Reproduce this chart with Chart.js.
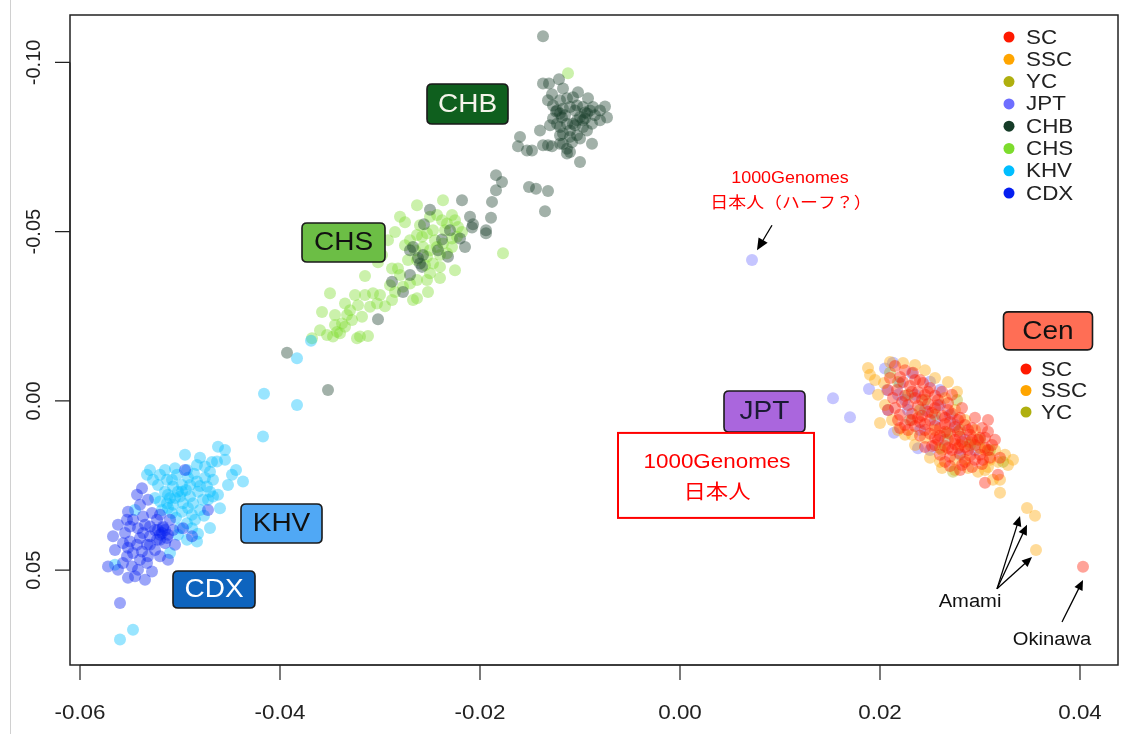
<!DOCTYPE html>
<html><head><meta charset="utf-8">
<script src="https://cdn.jsdelivr.net/npm/chart.js@4.4.0/dist/chart.umd.min.js"></script>
<style>html,body{margin:0;padding:0;background:#fff;overflow:hidden}canvas{display:block}</style>
</head><body>
<canvas id="c" width="1126" height="734"></canvas>
<script>
// ---- tick values / labels ----
const xTicks = [-0.06, -0.04, -0.02, 0.00, 0.02, 0.04];
const xTickLabels = ['-0.06', '-0.04', '-0.02', '0.00', '0.02', '0.04'];
const yTicks = [-0.10, -0.05, 0.00, 0.05];
const yTickLabels = ['-0.10', '-0.05', '0.00', '0.05'];

// ---- legend ----
const legendNames = ['SC', 'SSC', 'YC', 'JPT', 'CHB', 'CHS', 'KHV', 'CDX'];
const cenLegendNames = ['SC', 'SSC', 'YC'];

// ---- series values (PC1, PC2) ----
const CHB = [
[-0.0137,-0.1077],[-0.0137,-0.0938],[-0.0131,-0.0938],[-0.0121,-0.0950],[-0.0117,-0.0923],[-0.0128,-0.0906],
[-0.0132,-0.0888],[-0.0120,-0.0888],[-0.0113,-0.0894],[-0.0107,-0.0897],[-0.0123,-0.0858],[-0.0120,-0.0849],
[-0.0117,-0.0863],[-0.0110,-0.0868],[-0.0103,-0.0873],[-0.0097,-0.0868],[-0.0093,-0.0849],[-0.0090,-0.0858],
[-0.0087,-0.0868],[-0.0080,-0.0858],[-0.0075,-0.0870],[-0.0073,-0.0837],[-0.0088,-0.0819],[-0.0097,-0.0829],
[-0.0100,-0.0839],[-0.0103,-0.0829],[-0.0107,-0.0819],[-0.0110,-0.0799],[-0.0113,-0.0819],[-0.0120,-0.0809],
[-0.0123,-0.0819],[-0.0127,-0.0834],[-0.0117,-0.0790],[-0.0110,-0.0780],[-0.0103,-0.0785],[-0.0100,-0.0775],
[-0.0117,-0.0760],[-0.0113,-0.0745],[-0.0110,-0.0735],[-0.0113,-0.0731],[-0.0120,-0.0760],[-0.0128,-0.0752],
[-0.0132,-0.0755],[-0.0137,-0.0755],[-0.0140,-0.0799],[-0.0160,-0.0780],[-0.0162,-0.0752],[-0.0153,-0.0740],
[-0.0148,-0.0740],[-0.0100,-0.0706],[-0.0088,-0.0760],[-0.0093,-0.0799],[-0.0097,-0.0809],
[-0.0124,-0.0855],[-0.0118,-0.0837],[-0.0105,-0.0858],[-0.0095,-0.0852],
[-0.0127,-0.0873],[-0.0115,-0.0844],[-0.0105,-0.0814],[-0.0095,-0.0834],[-0.0085,-0.0844],[-0.0120,-0.0785],
[-0.0108,-0.0764],[-0.0130,-0.0814],[-0.0080,-0.0829],[-0.0092,-0.0894],[-0.0102,-0.0912],
[-0.0184,-0.0667],[-0.0178,-0.0647],[-0.0184,-0.0622],[-0.0188,-0.0588],[-0.0218,-0.0593],[-0.0250,-0.0565],
[-0.0210,-0.0544],[-0.0189,-0.0541],[-0.0151,-0.0632],[-0.0144,-0.0627],[-0.0132,-0.0620],[-0.0135,-0.0560],
[-0.0256,-0.0522],[-0.0207,-0.0522],[-0.0208,-0.0512],[-0.0194,-0.0504],[-0.0194,-0.0495],[-0.0230,-0.0504],
[-0.0238,-0.0477],[-0.0242,-0.0445],[-0.0267,-0.0455],[-0.0270,-0.0445],[-0.0260,-0.0406],[-0.0258,-0.0396],
[-0.0232,-0.0426],[-0.0220,-0.0480],[-0.0215,-0.0455],[-0.0270,-0.0372],[-0.0288,-0.0352],[-0.0277,-0.0322],
[-0.0302,-0.0241],[-0.0393,-0.0142],[-0.0352,-0.0032],[-0.0262,-0.0422],[-0.0257,-0.0431]
];
const CHS = [
[-0.0112,-0.0968],[-0.0237,-0.0593],[-0.0263,-0.0578],[-0.0280,-0.0544],[-0.0250,-0.0544],[-0.0243,-0.0549],
[-0.0238,-0.0534],[-0.0228,-0.0549],[-0.0225,-0.0534],[-0.0233,-0.0524],[-0.0222,-0.0514],[-0.0218,-0.0499],
[-0.0223,-0.0485],[-0.0228,-0.0480],[-0.0247,-0.0504],[-0.0253,-0.0495],[-0.0258,-0.0485],[-0.0263,-0.0490],
[-0.0270,-0.0475],[-0.0257,-0.0455],[-0.0250,-0.0445],[-0.0243,-0.0455],[-0.0237,-0.0465],[-0.0233,-0.0436],
[-0.0228,-0.0455],[-0.0272,-0.0416],[-0.0263,-0.0416],[-0.0253,-0.0426],[-0.0247,-0.0406],[-0.0240,-0.0396],
[-0.0250,-0.0377],[-0.0253,-0.0357],[-0.0263,-0.0357],[-0.0270,-0.0347],[-0.0277,-0.0337],[-0.0282,-0.0391],
[-0.0288,-0.0391],[-0.0285,-0.0322],[-0.0267,-0.0298],[-0.0252,-0.0322],[-0.0263,-0.0303],[-0.0315,-0.0369],
[-0.0307,-0.0318],[-0.0315,-0.0313],[-0.0303,-0.0288],[-0.0310,-0.0278],[-0.0318,-0.0249],[-0.0335,-0.0288],
[-0.0333,-0.0254],[-0.0338,-0.0229],[-0.0328,-0.0239],[-0.0343,-0.0204],[-0.0347,-0.0190],[-0.0353,-0.0195],
[-0.0368,-0.0185],[-0.0358,-0.0263],[-0.0350,-0.0318],[-0.0320,-0.0190],[-0.0312,-0.0192],[-0.0335,-0.0219],
[-0.0345,-0.0224],[-0.0177,-0.0436],[-0.0340,-0.0200],[-0.0323,-0.0185],
[-0.0275,-0.0528],[-0.0285,-0.0499],[-0.0292,-0.0475],[-0.0298,-0.0431],[-0.0302,-0.0410],[-0.0240,-0.0363],
[-0.0225,-0.0386],[-0.0295,-0.0280],[-0.0325,-0.0313],[-0.0288,-0.0298],
[-0.0275,-0.0460],[-0.0265,-0.0445],[-0.0260,-0.0519],[-0.0245,-0.0475],[-0.0235,-0.0504],[-0.0240,-0.0431],
[-0.0255,-0.0401],[-0.0280,-0.0372],[-0.0290,-0.0342],[-0.0300,-0.0313],[-0.0322,-0.0283],[-0.0330,-0.0268],
[-0.0345,-0.0254],[-0.0360,-0.0209]
];
const KHV = [
[-0.0369,-0.0178],[-0.0383,-0.0126],[-0.0416,-0.0021],[-0.0383,0.0012],[-0.0417,0.0105],[-0.0462,0.0135],
[-0.0455,0.0145],[-0.0463,0.0179],[-0.0455,0.0174],[-0.0448,0.0218],[-0.0437,0.0238],[-0.0460,0.0317],
[-0.0495,0.0159],[-0.0505,0.0199],[-0.0533,0.0218],[-0.0520,0.0218],[-0.0513,0.0233],[-0.0503,0.0218],
[-0.0493,0.0204],[-0.0483,0.0189],[-0.0475,0.0194],[-0.0470,0.0209],[-0.0467,0.0233],[-0.0473,0.0253],
[-0.0483,0.0238],[-0.0490,0.0248],[-0.0498,0.0248],[-0.0507,0.0253],[-0.0515,0.0268],[-0.0510,0.0287],
[-0.0500,0.0282],[-0.0490,0.0282],[-0.0482,0.0268],[-0.0470,0.0268],[-0.0467,0.0282],[-0.0477,0.0292],
[-0.0487,0.0302],[-0.0497,0.0302],[-0.0507,0.0307],[-0.0513,0.0302],[-0.0520,0.0297],[-0.0525,0.0287],
[-0.0518,0.0322],[-0.0508,0.0331],[-0.0498,0.0327],[-0.0488,0.0336],[-0.0480,0.0322],[-0.0485,0.0351],
[-0.0493,0.0361],[-0.0500,0.0376],[-0.0488,0.0376],[-0.0483,0.0415],[-0.0493,0.0410],[-0.0510,0.0449],
[-0.0565,0.0484],[-0.0560,0.0705],[-0.0547,0.0676],[-0.0545,0.0322],
[-0.0502,0.0268],[-0.0494,0.0263],[-0.0505,0.0287],[-0.0512,0.0316],[-0.0475,0.0227],[-0.0480,0.0168],
[-0.0527,0.0233],
[-0.0530,0.0204],[-0.0522,0.0248],[-0.0508,0.0233],[-0.0492,0.0227],[-0.0480,0.0251],[-0.0472,0.0292],
[-0.0462,0.0277],[-0.0452,0.0248],[-0.0444,0.0204],[-0.0468,0.0180],[-0.0486,0.0215],[-0.0498,0.0268],
[-0.0512,0.0277],[-0.0504,0.0345],[-0.0492,0.0316],[-0.0476,0.0339],[-0.0470,0.0375],[-0.0482,0.0392],
[-0.0502,0.0395],[-0.0515,0.0204]
];
const CDX = [
[-0.0538,0.0258],[-0.0543,0.0277],[-0.0472,0.0322],[-0.0553,0.0351],[-0.0547,0.0351],[-0.0537,0.0341],
[-0.0528,0.0331],[-0.0523,0.0351],[-0.0530,0.0371],[-0.0525,0.0381],[-0.0517,0.0371],[-0.0520,0.0395],
[-0.0513,0.0405],[-0.0515,0.0420],[-0.0523,0.0410],[-0.0530,0.0400],[-0.0537,0.0390],[-0.0542,0.0376],
[-0.0550,0.0371],[-0.0555,0.0390],[-0.0567,0.0400],[-0.0557,0.0420],[-0.0550,0.0415],[-0.0543,0.0425],
[-0.0538,0.0445],[-0.0547,0.0449],[-0.0553,0.0459],[-0.0557,0.0479],[-0.0572,0.0489],[-0.0548,0.0489],
[-0.0542,0.0499],[-0.0533,0.0479],[-0.0528,0.0504],[-0.0545,0.0518],[-0.0532,0.0459],[-0.0525,0.0440],
[-0.0520,0.0459],[-0.0560,0.0597],[-0.0488,0.0400],[-0.0497,0.0376],[-0.0507,0.0381],[-0.0495,0.0204],
[-0.0522,0.0381],[-0.0518,0.0390],[-0.0515,0.0381],[-0.0512,0.0395],[-0.0520,0.0410],[-0.0517,0.0375],
[-0.0533,0.0425],[-0.0540,0.0405],[-0.0552,0.0434],[-0.0535,0.0366],
[-0.0562,0.0366],[-0.0552,0.0327],[-0.0540,0.0307],[-0.0532,0.0292],[-0.0520,0.0336],[-0.0510,0.0351],
[-0.0505,0.0425],[-0.0512,0.0469],[-0.0535,0.0528],[-0.0552,0.0522],[-0.0565,0.0440],[-0.0540,0.0469],
[-0.0530,0.0425],[-0.0562,0.0499]
];
const JPT = [
[0.0072,-0.0416],[0.0153,-0.0008],[0.0170,0.0048],[0.0189,-0.0035],[0.0205,-0.0096],[0.0213,-0.0113],
[0.0214,0.0094],[0.0238,0.0140],[0.0230,0.0056],[0.0208,0.0027],[0.0207,-0.0032],[0.0220,-0.0052],
[0.0232,-0.0082],[0.0250,-0.0057],[0.0260,-0.0032],
[0.0225,-0.0003],[0.0235,-0.0018],[0.0245,0.0027],[0.0255,0.0056],[0.0240,0.0086],[0.0265,0.0115],
[0.0275,0.0071],[0.0250,0.0145],[0.0280,0.0159],[0.0218,-0.0018],[0.0228,0.0027],[0.0260,0.0012],
[0.0270,0.0041],[0.0285,0.0115],[0.0295,0.0145]
];
const SC = [
[0.0215,-0.0103],[0.0225,-0.0091],[0.0210,-0.0068],[0.0220,-0.0071],[0.0233,-0.0083],[0.0240,-0.0062],
[0.0208,-0.0032],[0.0217,-0.0032],[0.0230,-0.0044],[0.0243,-0.0053],[0.0250,-0.0038],[0.0213,-0.0009],
[0.0225,-0.0015],[0.0235,-0.0009],[0.0245,-0.0018],[0.0255,-0.0015],[0.0262,-0.0027],[0.0215,0.0021],
[0.0228,0.0012],[0.0238,0.0015],[0.0248,0.0009],[0.0258,0.0012],[0.0268,0.0006],[0.0220,0.0041],
[0.0232,0.0038],[0.0242,0.0044],[0.0252,0.0035],[0.0262,0.0044],[0.0272,0.0038],[0.0280,0.0050],
[0.0225,0.0071],[0.0235,0.0074],[0.0245,0.0068],[0.0255,0.0074],[0.0265,0.0068],[0.0275,0.0077],
[0.0285,0.0071],[0.0292,0.0080],[0.0240,0.0103],[0.0250,0.0097],[0.0260,0.0103],[0.0270,0.0097],
[0.0280,0.0106],[0.0290,0.0100],[0.0300,0.0109],[0.0308,0.0091],[0.0245,0.0136],[0.0255,0.0130],
[0.0265,0.0133],[0.0275,0.0127],[0.0285,0.0136],[0.0295,0.0130],[0.0305,0.0139],[0.0260,0.0159],
[0.0270,0.0165],[0.0280,0.0156],[0.0290,0.0162],[0.0300,0.0159],[0.0310,0.0168],[0.0270,0.0192],
[0.0282,0.0189],[0.0292,0.0195],[0.0302,0.0186],[0.0305,0.0242],[0.0318,0.0218],[0.0208,0.0027],
[0.0220,0.0080],[0.0308,0.0056],[0.0315,0.0115],
[0.0250,0.0056],[0.0260,0.0080],[0.0270,0.0062],[0.0278,0.0091],[0.0265,0.0091],[0.0282,0.0121],
[0.0272,0.0145],[0.0288,0.0145],[0.0295,0.0174],[0.0258,0.0115],[0.0238,0.0050],[0.0248,0.0032],
[0.0223,-0.0056],[0.0235,-0.0062],[0.0248,-0.0027],[0.0258,-0.0003],[0.0268,0.0027],[0.0278,0.0056],
[0.0288,0.0086],[0.0298,0.0115],[0.0308,0.0145],[0.0303,0.0174],[0.0285,0.0180],[0.0275,0.0115],
[0.0265,0.0050],[0.0255,0.0021],[0.0242,-0.0003],[0.0232,-0.0027],[0.0222,0.0003],[0.0232,0.0056],
[0.0245,0.0086],[0.0255,0.0109],[0.0268,0.0139],[0.0278,0.0139],[0.0292,0.0115],[0.0302,0.0080],
[0.0312,0.0130],[0.0320,0.0168],[0.0280,0.0204],[0.0265,0.0180],[0.0252,0.0133],[0.0240,0.0062],
[0.0228,0.0086],[0.0218,0.0056],[0.0238,-0.0027],[0.0272,-0.0018],[0.0282,0.0021],[0.0295,0.0050],
[0.0305,0.0109],
[0.0403,0.0490]
];
const SSC = [
[0.0188,-0.0097],[0.0223,-0.0112],[0.0268,-0.0056],[0.0277,-0.0027],[0.0200,0.0065],[0.0232,0.0100],
[0.0260,0.0180],[0.0262,0.0198],[0.0288,0.0198],[0.0308,0.0195],[0.0310,0.0174],[0.0333,0.0174],
[0.0320,0.0233],[0.0313,0.0233],[0.0320,0.0271],[0.0305,0.0145],[0.0315,0.0145],
[0.0347,0.0316],[0.0355,0.0339],[0.0356,0.0440],
[0.0198,-0.0018],[0.0205,0.0012],[0.0204,-0.0053],[0.0195,-0.0062],[0.0212,0.0056],[0.0225,0.0100],
[0.0235,0.0130],[0.0250,0.0168],[0.0275,0.0204],[0.0298,0.0209],[0.0325,0.0159],[0.0318,0.0180],
[0.0295,0.0086],[0.0285,0.0056],[0.0275,0.0027],[0.0265,-0.0009],[0.0255,-0.0068],[0.0245,-0.0091],
[0.0235,-0.0106],[0.0210,-0.0115],[0.0280,0.0130],[0.0268,0.0115],[0.0255,0.0086],[0.0245,0.0109],
[0.0290,0.0121],[0.0300,0.0139],[0.0275,0.0174],[0.0285,0.0174],[0.0262,0.0145],[0.0230,0.0056],
[0.0218,0.0086],[0.0190,-0.0077],[0.0328,0.0189],[0.0305,0.0204]
];
const YC = [
[0.0210,-0.0083],[0.0277,-0.0003],[0.0273,0.0209],[0.0323,0.0180],[0.0228,-0.0018],[0.0267,0.0094],
[0.0300,0.0115],[0.0240,0.0027],[0.0255,0.0041],[0.0280,0.0086],[0.0290,0.0130],[0.0218,-0.0056],
[0.0260,0.0139],[0.0310,0.0145],[0.0245,-0.0003]
];

// ---- annotations (data coordinates) ----
const labelBoxes = [
  {text:'CHB', x:-0.02125, y:-0.0877, w:81, h:40, fill:'#0F5F1E', color:'#F4F4EA'},
  {text:'CHS', x:-0.03365, y:-0.0468, w:83, h:39, fill:'#6CBE45', color:'#111111'},
  {text:'JPT', x:0.00845, y:0.0031, w:81, h:41, fill:'#AA66DD', color:'#1A1A33'},
  {text:'KHV', x:-0.03985, y:0.0362, w:81, h:39, fill:'#50A8F5', color:'#111111'},
  {text:'CDX', x:-0.0466, y:0.0557, w:82, h:37, fill:'#0E64BE', color:'#FFFFFF'},
  {text:'Cen', x:0.0368, y:-0.0207, w:89, h:38, fill:'#FF6E55', color:'#111111'}
];

const COLORS = {
  SC:'255,25,0', SSC:'255,165,0', YC:'175,175,15', JPT:'110,110,255',
  CHB:'22,60,40', CHS:'125,220,45', KHV:'0,190,255', CDX:'5,30,240'
};
const ALPHA = 0.4;

const series = {SC, SSC, YC, JPT, CHB, CHS, KHV, CDX};
// draw order: lower 'order' value is drawn on top
const drawOrder = {SC:1, YC:2, SSC:3, JPT:4, CDX:5, KHV:6, CHS:8, CHB:7};

const datasets = Object.keys(series).map(k => ({
  label: k,
  data: series[k].map(([x, y]) => ({x, y})),
  backgroundColor: `rgba(${COLORS[k]},${ALPHA})`,
  borderWidth: 0,
  pointRadius: 6,
  order: drawOrder[k]
}));

const TEXT_SX = 1.12;
function txt(ctx, s, x, y, font, color, align) {
  ctx.save();
  ctx.translate(x, y);
  ctx.scale(TEXT_SX, 1);
  ctx.font = font;
  ctx.fillStyle = color;
  ctx.textAlign = align || 'center';
  ctx.textBaseline = 'middle';
  ctx.fillText(s, 0, 0);
  ctx.restore();
}
function rrect(ctx, x, y, w, h, r) {
  ctx.beginPath();
  ctx.moveTo(x + r, y);
  ctx.lineTo(x + w - r, y); ctx.quadraticCurveTo(x + w, y, x + w, y + r);
  ctx.lineTo(x + w, y + h - r); ctx.quadraticCurveTo(x + w, y + h, x + w - r, y + h);
  ctx.lineTo(x + r, y + h); ctx.quadraticCurveTo(x, y + h, x, y + h - r);
  ctx.lineTo(x, y + r); ctx.quadraticCurveTo(x, y, x + r, y);
  ctx.closePath();
}
function arrow(ctx, x1, y1, x2, y2, head) {
  const a = Math.atan2(y2 - y1, x2 - x1);
  ctx.beginPath();
  ctx.moveTo(x1, y1);
  ctx.lineTo(x2 - head * 0.7 * Math.cos(a), y2 - head * 0.7 * Math.sin(a));
  ctx.stroke();
  ctx.beginPath();
  ctx.moveTo(x2, y2);
  ctx.lineTo(x2 - head * Math.cos(a - 0.42), y2 - head * Math.sin(a - 0.42));
  ctx.lineTo(x2 - head * Math.cos(a + 0.42), y2 - head * Math.sin(a + 0.42));
  ctx.closePath();
  ctx.fill();
}

const FONT = '"Liberation Sans", Arial, Helvetica, sans-serif';
const FONT_CJK = '"Liberation Sans", "Noto Sans CJK JP", sans-serif';

const deco = {
  id: 'deco',
  afterDraw(chart) {
    const ctx = chart.ctx;
    const xs = chart.scales.x, ys = chart.scales.y;
    const A = chart.chartArea;
    const X = v => xs.getPixelForValue(v), Y = v => ys.getPixelForValue(v);

    // faint page edge line
    ctx.save();
    ctx.strokeStyle = '#d0d0d0'; ctx.lineWidth = 1;
    ctx.beginPath(); ctx.moveTo(10.5, 0); ctx.lineTo(10.5, 734); ctx.stroke();

    // plot box
    ctx.strokeStyle = '#222'; ctx.lineWidth = 1.5;
    ctx.strokeRect(A.left, A.top, A.right - A.left, A.bottom - A.top);

    // x axis
    ctx.lineWidth = 1.2;
    ctx.beginPath();
    ctx.moveTo(X(xTicks[0]), A.bottom); ctx.lineTo(X(xTicks[xTicks.length - 1]), A.bottom);
    xTicks.forEach(v => { ctx.moveTo(X(v), A.bottom); ctx.lineTo(X(v), A.bottom + 15); });
    // y axis
    ctx.moveTo(A.left, Y(yTicks[0])); ctx.lineTo(A.left, Y(yTicks[yTicks.length - 1]));
    yTicks.forEach(v => { ctx.moveTo(A.left, Y(v)); ctx.lineTo(A.left - 15, Y(v)); });
    ctx.stroke();

    xTicks.forEach((v, i) => txt(ctx, xTickLabels[i], X(v), A.bottom + 48, '20px ' + FONT, '#222'));
    yTicks.forEach((v, i) => {
      ctx.save();
      ctx.translate(A.left - 36, Y(v));
      ctx.rotate(-Math.PI / 2);
      ctx.font = '20px ' + FONT; ctx.fillStyle = '#222';
      ctx.textAlign = 'center'; ctx.textBaseline = 'middle';
      ctx.fillText(yTickLabels[i], 0, 0);
      ctx.restore();
    });

    // top-right legend
    legendNames.forEach((n, i) => {
      const ly = 37 + i * 22.3;
      ctx.fillStyle = `rgb(${COLORS[n]})`;
      ctx.beginPath(); ctx.arc(1009, ly, 5.5, 0, Math.PI * 2); ctx.fill();
      txt(ctx, n, 1026, ly + 1, '20px ' + FONT, '#222', 'left');
    });

    // label boxes
    labelBoxes.forEach(b => {
      const cx = X(b.x), cy = Y(b.y);
      rrect(ctx, cx - b.w / 2, cy - b.h / 2, b.w, b.h, 5);
      ctx.fillStyle = b.fill; ctx.fill();
      ctx.strokeStyle = '#1a1a1a'; ctx.lineWidth = 1.6; ctx.stroke();
      txt(ctx, b.text, cx, cy + 1, '25px ' + FONT, b.color);
    });

    // Cen sub-legend
    cenLegendNames.forEach((n, i) => {
      const ly = 369 + i * 21.5;
      ctx.fillStyle = `rgb(${COLORS[n]})`;
      ctx.beginPath(); ctx.arc(1026, ly, 5.5, 0, Math.PI * 2); ctx.fill();
      txt(ctx, n, 1041, ly + 1, '20px ' + FONT, '#222', 'left');
    });

    // 1000Genomes red box
    const bx = X(0.0036), by = Y(0.0220);
    ctx.strokeStyle = '#FF0000'; ctx.lineWidth = 2;
    ctx.strokeRect(bx - 98, by - 42.5, 196, 85);
    txt(ctx, '1000Genomes', bx + 1, by - 13, '20px ' + FONT, '#FF0000');
    txt(ctx, '日本人', bx + 1, by + 18, '20px ' + FONT_CJK, '#FF0000');

    // half annotation
    txt(ctx, '1000Genomes', X(0.0110), Y(-0.0658), '16px ' + FONT, '#FF0000');
    txt(ctx, '日本人（ハーフ？）', X(0.0111), Y(-0.0584), '16px ' + FONT_CJK, '#FF0000');
    ctx.strokeStyle = '#000'; ctx.fillStyle = '#000'; ctx.lineWidth = 1.3;
    arrow(ctx, X(0.0092), Y(-0.0519), X(0.0077), Y(-0.0445), 13);

    // Amami / Okinawa
    const ax = X(0.0317), ay = Y(0.0555);
    arrow(ctx, ax, ay, X(0.0340), Y(0.0340), 11);
    arrow(ctx, ax, ay, X(0.0347), Y(0.0366), 11);
    arrow(ctx, ax, ay, X(0.0352), Y(0.0461), 11);
    arrow(ctx, X(0.0382), Y(0.0653), X(0.0403), Y(0.0529), 11);
    txt(ctx, 'Amami', X(0.0290), Y(0.0594), '18px ' + FONT, '#111');
    txt(ctx, 'Okinawa', X(0.0372), Y(0.0706), '18px ' + FONT, '#111');
    ctx.restore();
  }
};

new Chart(document.getElementById('c'), {
  type: 'scatter',
  data: { datasets },
  options: {
    responsive: false,
    animation: false,
    devicePixelRatio: 1,
    layout: { padding: { left: 70, top: 15, right: 8, bottom: 69 } },
    scales: {
      x: { type: 'linear', display: false, min: -0.0610, max: 0.0438 },
      y: { type: 'linear', display: false, reverse: true, min: -0.1140, max: 0.0780 }
    },
    plugins: { legend: { display: false }, tooltip: { enabled: false } }
  },
  plugins: [deco]
});
</script>
</body></html>
